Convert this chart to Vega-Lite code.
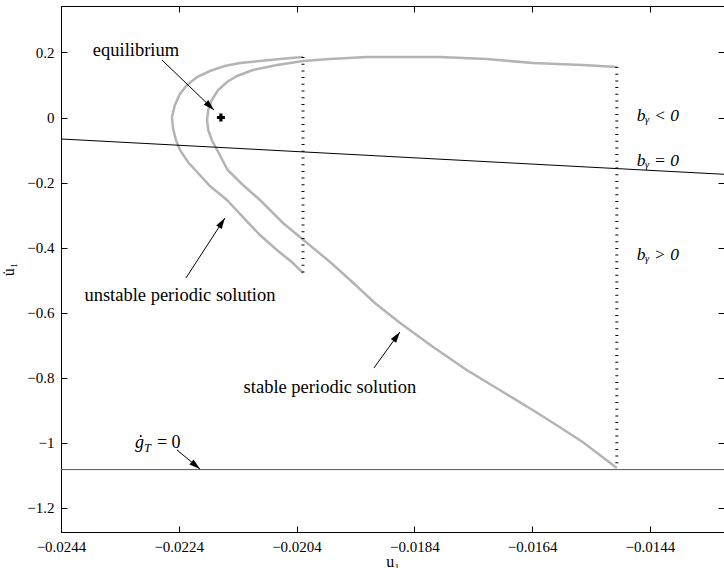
{
  "$schema": "https://vega.github.io/schema/vega-lite/v6.json",
  "width": 663,
  "height": 526,
  "autosize": {"type": "none"},
  "padding": {"left": 61, "top": 6, "right": 0, "bottom": 36},
  "background": "white",
  "config": {
    "view": {"stroke": "black", "strokeWidth": 1},
    "axis": {
      "labelFont": "Liberation Serif",
      "labelFontSize": 15,
      "labelColor": "black",
      "tickColor": "black",
      "domainColor": "black",
      "grid": false,
      "titleFont": "Liberation Serif",
      "titleFontWeight": "normal",
      "titleFontSize": 16,
      "titleColor": "black",
      "labelFlush": false,
      "labelOverlap": false
    }
  },
  "datasets": {
    "stable": [
      {"i": 0, "x": -0.01496, "y": 0.1553},
      {"i": 1, "x": -0.01554, "y": 0.1615},
      {"i": 2, "x": -0.01639, "y": 0.1676},
      {"i": 3, "x": -0.01717, "y": 0.1799},
      {"i": 4, "x": -0.01797, "y": 0.1861},
      {"i": 5, "x": -0.01864, "y": 0.1861},
      {"i": 6, "x": -0.01921, "y": 0.1861},
      {"i": 7, "x": -0.01983, "y": 0.1799},
      {"i": 8, "x": -0.02029, "y": 0.1738},
      {"i": 9, "x": -0.02073, "y": 0.1615},
      {"i": 10, "x": -0.02114, "y": 0.1461},
      {"i": 11, "x": -0.02141, "y": 0.1277},
      {"i": 12, "x": -0.02158, "y": 0.1092},
      {"i": 13, "x": -0.02173, "y": 0.0846},
      {"i": 14, "x": -0.02184, "y": 0.0538},
      {"i": 15, "x": -0.0219, "y": 0.0231},
      {"i": 16, "x": -0.02192, "y": -0.0077},
      {"i": 17, "x": -0.0219, "y": -0.0384},
      {"i": 18, "x": -0.02184, "y": -0.0692},
      {"i": 19, "x": -0.02173, "y": -0.1061},
      {"i": 20, "x": -0.02157, "y": -0.1615},
      {"i": 21, "x": -0.02131, "y": -0.2076},
      {"i": 22, "x": -0.02102, "y": -0.2538},
      {"i": 23, "x": -0.02063, "y": -0.3245},
      {"i": 24, "x": -0.02022, "y": -0.386},
      {"i": 25, "x": -0.01983, "y": -0.4445},
      {"i": 26, "x": -0.01949, "y": -0.4998},
      {"i": 27, "x": -0.01907, "y": -0.5706},
      {"i": 28, "x": -0.01864, "y": -0.6321},
      {"i": 29, "x": -0.01808, "y": -0.7059},
      {"i": 30, "x": -0.01751, "y": -0.7767},
      {"i": 31, "x": -0.01695, "y": -0.8382},
      {"i": 32, "x": -0.01639, "y": -0.8997},
      {"i": 33, "x": -0.01596, "y": -0.9489},
      {"i": 34, "x": -0.01554, "y": -0.9981},
      {"i": 35, "x": -0.01525, "y": -1.0381},
      {"i": 36, "x": -0.01496, "y": -1.0781}
    ],
    "unstable": [
      {"i": 0, "x": -0.02029, "y": 0.1861},
      {"i": 1, "x": -0.02068, "y": 0.1799},
      {"i": 2, "x": -0.02102, "y": 0.1738},
      {"i": 3, "x": -0.02136, "y": 0.1676},
      {"i": 4, "x": -0.02162, "y": 0.1584},
      {"i": 5, "x": -0.02187, "y": 0.143},
      {"i": 6, "x": -0.02209, "y": 0.1246},
      {"i": 7, "x": -0.02226, "y": 0.1},
      {"i": 8, "x": -0.02238, "y": 0.0723},
      {"i": 9, "x": -0.022465, "y": 0.0384},
      {"i": 10, "x": -0.022515, "y": 0.0015},
      {"i": 11, "x": -0.022498, "y": -0.0323},
      {"i": 12, "x": -0.022448, "y": -0.0692},
      {"i": 13, "x": -0.02238, "y": -0.1},
      {"i": 14, "x": -0.022244, "y": -0.1369},
      {"i": 15, "x": -0.022074, "y": -0.1707},
      {"i": 16, "x": -0.02187, "y": -0.2107},
      {"i": 17, "x": -0.021582, "y": -0.2538},
      {"i": 18, "x": -0.02131, "y": -0.3061},
      {"i": 19, "x": -0.021021, "y": -0.3614},
      {"i": 20, "x": -0.020733, "y": -0.4076},
      {"i": 21, "x": -0.020461, "y": -0.4476},
      {"i": 22, "x": -0.02029, "y": -0.4783}
    ],
    "vlines": [
      {"x": -0.02029, "y1": 0.1861, "y2": -0.4783},
      {"x": -0.01496, "y1": 0.1553, "y2": -1.0781}
    ],
    "bline": [
      {"x": -0.0244, "y": -0.0661},
      {"x": -0.01314, "y": -0.1747}
    ],
    "gline": [{"y": -1.083}],
    "equil": [{"x": -0.021684, "y": 0}],
    "arrows": [
      {"name": "eq", "x1": -0.022685, "y1": 0.1769, "x2": -0.021802, "y2": 0.0231},
      {"name": "unstable", "x1": -0.022278, "y1": -0.4937, "x2": -0.021616, "y2": -0.3091},
      {"name": "stable", "x1": -0.019086, "y1": -0.7705, "x2": -0.018644, "y2": -0.6598},
      {"name": "g", "x1": -0.022431, "y1": -1.0227, "x2": -0.02204, "y2": -1.0811}
    ],
    "labels": [
      {"text": "equilibrium", "x": -0.023127, "y": 0.2076},
      {"text": "unstable periodic solution", "x": -0.02238, "y": -0.546},
      {"text": "stable periodic solution", "x": -0.019833, "y": -0.829}
    ],
    "blabels": [
      {"text": "bᵧ < 0", "x": -0.014621, "y": 0.0046},
      {"text": "bᵧ = 0", "x": -0.014621, "y": -0.1338},
      {"text": "bᵧ > 0", "x": -0.014621, "y": -0.4229}
    ],
    "glabel": [{"x": -0.023144, "y": -1.0012}]
  },
  "layer": [
    {
      "data": {"name": "stable"},
      "mark": {"type": "line", "stroke": "#b4b4b4", "strokeWidth": 2.5},
      "encoding": {
        "x": {
          "field": "x", "type": "quantitative",
          "scale": {"domain": [-0.0244, -0.01314], "nice": false, "zero": false},
          "axis": {
            "values": [-0.0244, -0.0224, -0.0204, -0.0184, -0.0164, -0.0144],
            "format": ".3~g", "title": "u₁", "tickSize": -6, "labelPadding": 13, "titlePadding": -1
          }
        },
        "y": {
          "field": "y", "type": "quantitative",
          "scale": {"domain": [-1.275, 0.343], "nice": false, "zero": false},
          "axis": {
            "values": [-1.2, -1, -0.8, -0.6, -0.4, -0.2, 0, 0.2],
            "format": ".3~g", "title": "u̇₁", "tickSize": -6, "labelPadding": 13, "titlePadding": 10
          }
        },
        "order": {"field": "i", "type": "quantitative"}
      }
    },
    {
      "data": {"name": "unstable"},
      "mark": {"type": "line", "stroke": "#b4b4b4", "strokeWidth": 2.5},
      "encoding": {
        "x": {"field": "x", "type": "quantitative", "scale": {"domain": [-0.0244, -0.01314], "nice": false, "zero": false}, "axis": null},
        "y": {"field": "y", "type": "quantitative", "scale": {"domain": [-1.275, 0.343], "nice": false, "zero": false}, "axis": null},
        "order": {"field": "i", "type": "quantitative"}
      }
    },
    {
      "data": {"name": "vlines"},
      "mark": {"type": "rule", "stroke": "black", "strokeWidth": 3, "strokeDash": [1, 5.7]},
      "encoding": {
        "x": {"field": "x", "type": "quantitative", "axis": null},
        "y": {"field": "y1", "type": "quantitative", "axis": null},
        "y2": {"field": "y2"}
      }
    },
    {
      "data": {"name": "bline"},
      "mark": {"type": "line", "stroke": "black", "strokeWidth": 1},
      "encoding": {
        "x": {
          "field": "x", "type": "quantitative",
          "scale": {"domain": [-0.0244, -0.01314], "nice": false, "zero": false},
          "axis": {"orient": "top", "values": [-0.0244, -0.0224, -0.0204, -0.0184, -0.0164, -0.0144], "labels": false, "domain": false, "title": null, "tickSize": -6}
        },
        "y": {
          "field": "y", "type": "quantitative",
          "scale": {"domain": [-1.275, 0.343], "nice": false, "zero": false},
          "axis": {"orient": "right", "values": [-1.2, -1, -0.8, -0.6, -0.4, -0.2, 0, 0.2], "labels": false, "domain": false, "title": null, "tickSize": -6}
        }
      }
    },
    {
      "data": {"name": "gline"},
      "mark": {"type": "rule", "stroke": "#555555", "strokeWidth": 1},
      "encoding": {
        "y": {"field": "y", "type": "quantitative", "axis": null}
      }
    },
    {
      "data": {"name": "equil"},
      "mark": {"type": "point", "shape": "cross", "filled": true, "color": "black", "size": 64, "opacity": 1},
      "encoding": {
        "x": {"field": "x", "type": "quantitative", "axis": null},
        "y": {"field": "y", "type": "quantitative", "axis": null}
      }
    },
    {
      "data": {"name": "arrows"},
      "mark": {"type": "rule", "stroke": "black", "strokeWidth": 1},
      "encoding": {
        "x": {"field": "x1", "type": "quantitative", "axis": null},
        "y": {"field": "y1", "type": "quantitative", "axis": null},
        "x2": {"field": "x2"},
        "y2": {"field": "y2"}
      }
    },
    {
      "data": {"name": "arrows"},
      "transform": [{"filter": "datum.name === 'eq'"}],
      "mark": {"type": "point", "shape": "M0,0L-0.3,1L0.3,1Z", "filled": true, "color": "black", "size": 484, "opacity": 1, "angle": 133.9},
      "encoding": {
        "x": {"field": "x2", "type": "quantitative", "axis": null},
        "y": {"field": "y2", "type": "quantitative", "axis": null}
      }
    },
    {
      "data": {"name": "arrows"},
      "transform": [{"filter": "datum.name === 'unstable'"}],
      "mark": {"type": "point", "shape": "M0,0L-0.3,1L0.3,1Z", "filled": true, "color": "black", "size": 484, "opacity": 1, "angle": 33.0},
      "encoding": {
        "x": {"field": "x2", "type": "quantitative", "axis": null},
        "y": {"field": "y2", "type": "quantitative", "axis": null}
      }
    },
    {
      "data": {"name": "arrows"},
      "transform": [{"filter": "datum.name === 'stable'"}],
      "mark": {"type": "point", "shape": "M0,0L-0.3,1L0.3,1Z", "filled": true, "color": "black", "size": 484, "opacity": 1, "angle": 35.8},
      "encoding": {
        "x": {"field": "x2", "type": "quantitative", "axis": null},
        "y": {"field": "y2", "type": "quantitative", "axis": null}
      }
    },
    {
      "data": {"name": "arrows"},
      "transform": [{"filter": "datum.name === 'g'"}],
      "mark": {"type": "point", "shape": "M0,0L-0.3,1L0.3,1Z", "filled": true, "color": "black", "size": 484, "opacity": 1, "angle": 129.6},
      "encoding": {
        "x": {"field": "x2", "type": "quantitative", "axis": null},
        "y": {"field": "y2", "type": "quantitative", "axis": null}
      }
    },
    {
      "data": {"name": "labels"},
      "mark": {"type": "text", "font": "Liberation Serif", "fontSize": 18.5, "color": "black", "align": "center", "baseline": "middle"},
      "encoding": {
        "x": {"field": "x", "type": "quantitative", "axis": null},
        "y": {"field": "y", "type": "quantitative", "axis": null},
        "text": {"field": "text"}
      }
    },
    {
      "data": {"name": "blabels"},
      "mark": {"type": "text", "font": "Liberation Serif", "fontSize": 17.5, "fontStyle": "italic", "color": "black", "align": "left", "baseline": "middle"},
      "encoding": {
        "x": {"field": "x", "type": "quantitative", "axis": null},
        "y": {"field": "y", "type": "quantitative", "axis": null},
        "text": {"field": "text"}
      }
    },
    {
      "data": {"name": "glabel"},
      "mark": {"type": "text", "font": "Liberation Serif", "fontSize": 18, "fontStyle": "italic", "color": "black", "align": "left", "baseline": "middle", "text": "ġ"},
      "encoding": {
        "x": {"field": "x", "type": "quantitative", "axis": null},
        "y": {"field": "y", "type": "quantitative", "axis": null}
      }
    },
    {
      "data": {"name": "glabel"},
      "mark": {"type": "text", "font": "Liberation Serif", "fontSize": 12.5, "fontStyle": "italic", "color": "black", "align": "left", "baseline": "middle", "text": "T", "dx": 9, "dy": 5},
      "encoding": {
        "x": {"field": "x", "type": "quantitative", "axis": null},
        "y": {"field": "y", "type": "quantitative", "axis": null}
      }
    },
    {
      "data": {"name": "glabel"},
      "mark": {"type": "text", "font": "Liberation Serif", "fontSize": 18, "color": "black", "align": "left", "baseline": "middle", "text": "= 0", "dx": 22},
      "encoding": {
        "x": {"field": "x", "type": "quantitative", "axis": null},
        "y": {"field": "y", "type": "quantitative", "axis": null}
      }
    }
  ],
  "resolve": {"axis": {"x": "independent", "y": "independent"}}
}
